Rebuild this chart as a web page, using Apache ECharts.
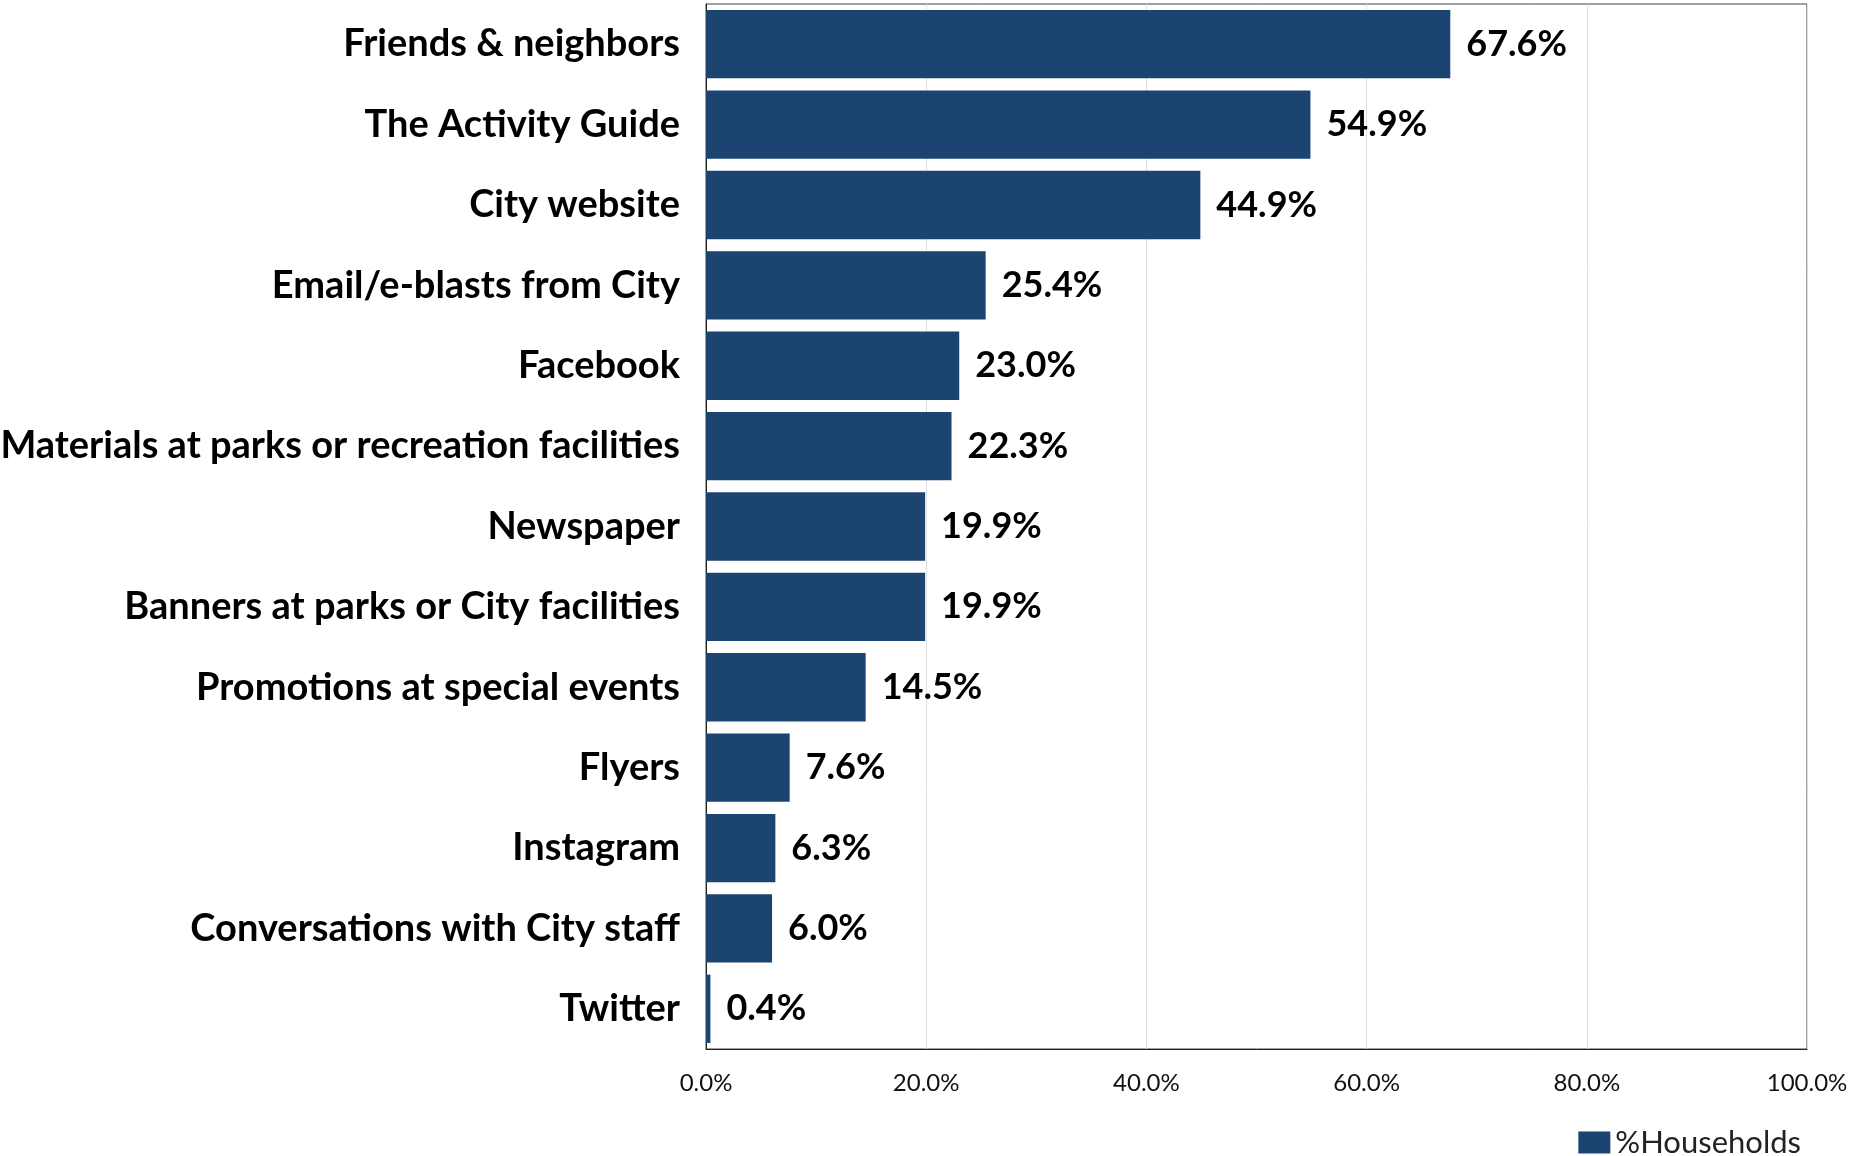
<!DOCTYPE html>
<html>
<head>
<meta charset="utf-8">
<script src="https://cdn.jsdelivr.net/npm/echarts@6/dist/echarts.min.js"></script>
<style>
  html, body { margin: 0; padding: 0; background: #fff; }
  #chart { width: 1852px; height: 1156px; }
</style>
</head>
<body>
<div id="chart"></div>
<script>
// data
const categories = [
  'Friends & neighbors',
  'The Activity Guide',
  'City website',
  'Email/e-blasts from City',
  'Facebook',
  'Materials at parks or recreation facilities',
  'Newspaper',
  'Banners at parks or City facilities',
  'Promotions at special events',
  'Flyers',
  'Instagram',
  'Conversations with City staff',
  'Twitter'
];
const households = [67.6, 54.9, 44.9, 25.4, 23.0, 22.3, 19.9, 19.9, 14.5, 7.6, 6.3, 6.0, 0.4];
const xTicks = [0, 20, 40, 60, 80, 100];

const font = 'Lato, "Open Sans", sans-serif';
const barColor = '#1b4470';

let myChart = echarts.init(document.getElementById('chart'));
let option = {
  backgroundColor: '#fff',
  animation: false,
  grid: {
    left: 706,
    right: 45,
    top: 4,
    bottom: 107,
    outerBoundsMode: 'none',
    show: true,
    borderColor: '#404040',
    borderWidth: 1
  },
  legend: {
    data: ['%Households'],
    right: 46,
    top: 1122,
    itemWidth: 32,
    itemHeight: 22,
    itemGap: 6,
    icon: 'rect',
    textStyle: { fontFamily: font, fontSize: 31, color: '#222' }
  },
  xAxis: {
    type: 'value',
    min: xTicks[0],
    max: xTicks[xTicks.length - 1],
    interval: 20,
    axisLine: { show: true, lineStyle: { color: '#222' } },
    axisTick: { show: false },
    splitLine: { show: true, lineStyle: { color: '#dedede' } },
    axisLabel: {
      margin: 22,
      fontFamily: font,
      fontSize: 24,
      color: '#111',
      formatter: v => v.toFixed(1) + '%'
    }
  },
  yAxis: {
    type: 'category',
    data: categories,
    inverse: true,
    axisLine: { show: true, lineStyle: { color: '#222' } },
    axisTick: { show: false },
    axisLabel: {
      margin: 26,
      fontFamily: font,
      fontSize: 38,
      fontWeight: 'bold',
      color: '#000'
    }
  },
  series: [
    {
      name: '%Households',
      type: 'bar',
      data: households,
      barCategoryGap: '15%',
      itemStyle: { color: barColor },
      label: {
        show: true,
        position: 'right',
        distance: 16,
        fontFamily: font,
        fontSize: 36,
        fontWeight: 'bold',
        color: '#000',
        formatter: p => p.value.toFixed(1) + '%'
      }
    }
  ]
};
myChart.setOption(option);
</script>
</body>
</html>
